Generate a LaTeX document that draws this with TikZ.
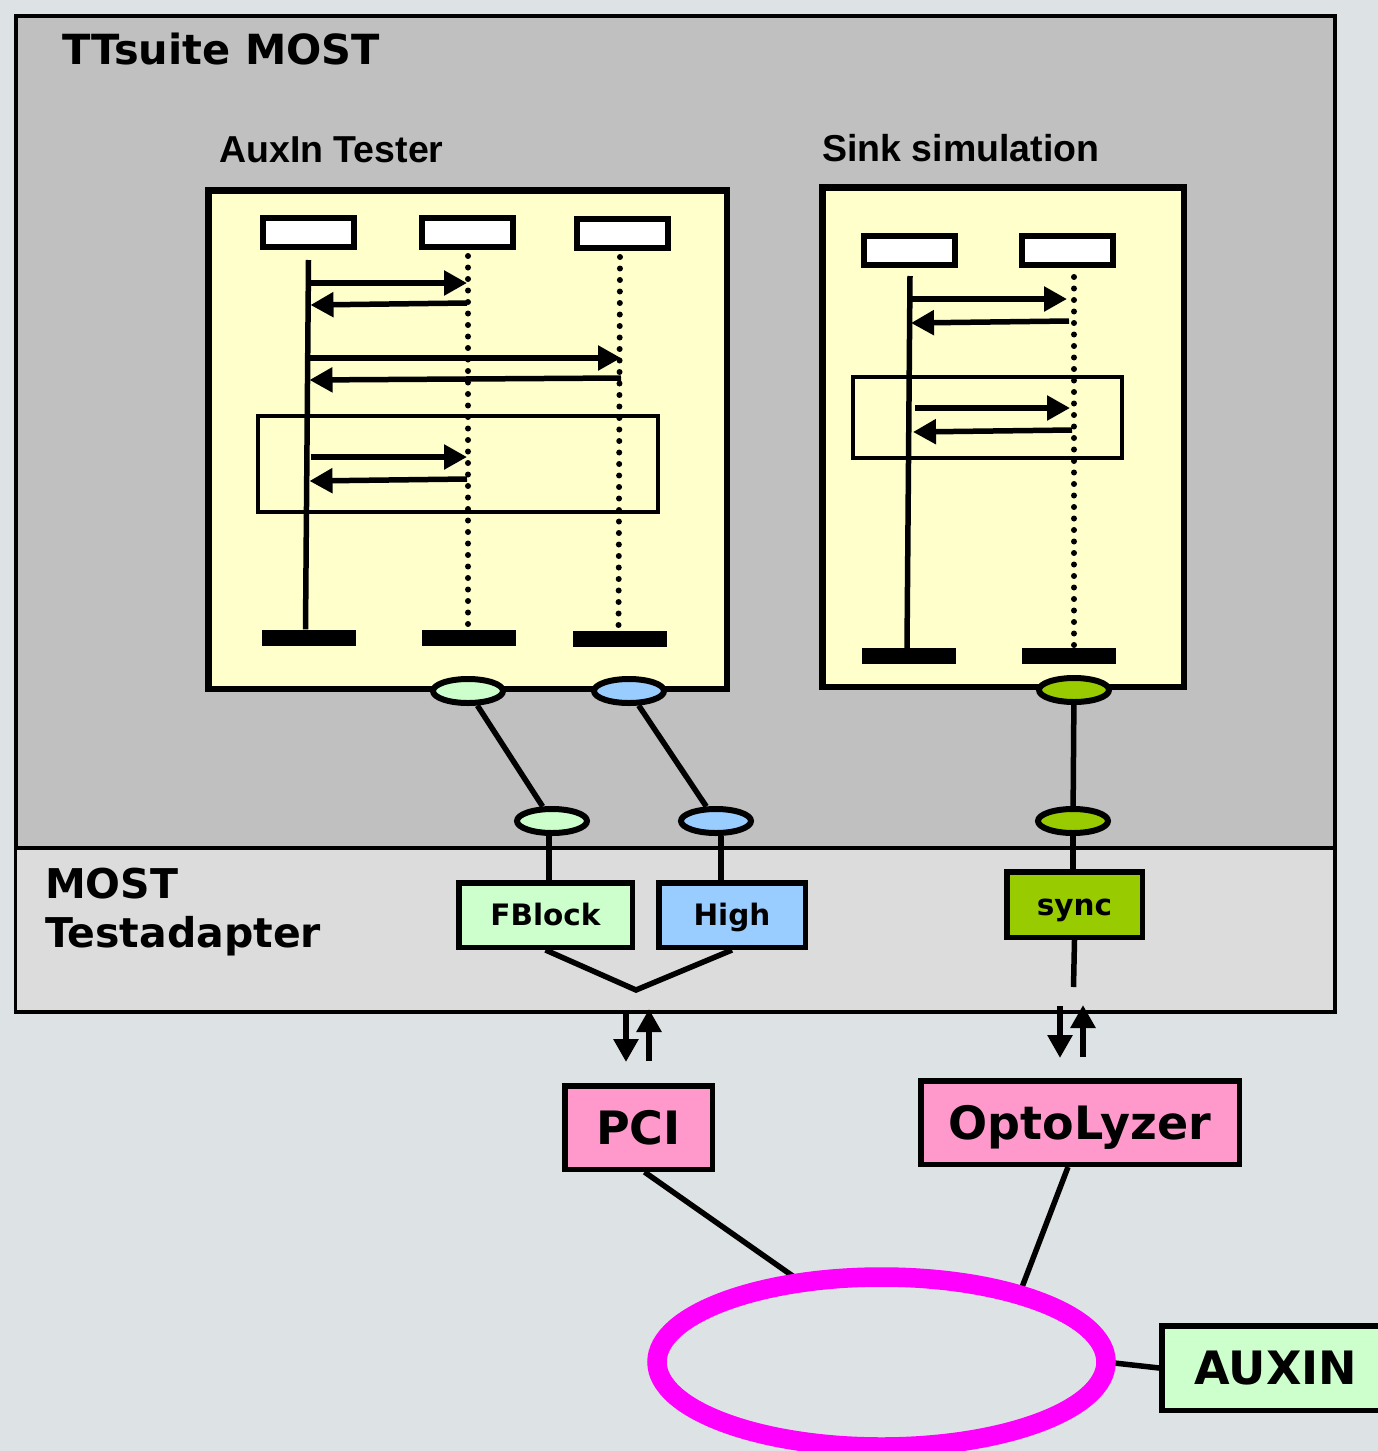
\documentclass[tikz,border=0pt]{standalone}
\usepackage{fontspec}
\setmainfont{DejaVu Sans}
\newfontfamily\arialfont{Liberation Sans}
\usetikzlibrary{arrows.meta,shapes.geometric}
\definecolor{bgc}{RGB}{221,226,229}
\definecolor{suitec}{RGB}{192,192,192}
\definecolor{adapc}{RGB}{220,220,220}
\definecolor{yelc}{RGB}{255,255,204}
\definecolor{lgreen}{RGB}{204,255,204}
\definecolor{lblue}{RGB}{153,204,255}
\definecolor{dgreen}{RGB}{153,204,0}
\definecolor{pinkc}{RGB}{255,153,204}
\definecolor{ringc}{RGB}{255,0,255}
\tikzset{
  titletext/.style={anchor=base west, inner sep=0pt, font=\bfseries\fontsize{41.5}{49}\selectfont},
  adptext/.style={anchor=base west, inner sep=0pt, font=\bfseries\fontsize{41}{48}\selectfont},
  subtext/.style={anchor=base west, inner sep=0pt, font=\arialfont\bfseries\fontsize{37.5}{45}\selectfont},
  panel/.style={draw, line width=6.5pt, fill=yelc, inner sep=0pt},
  headbox/.style={draw, line width=6pt, fill=white, minimum width=91pt, minimum height=29pt, inner sep=0pt},
  endbar/.style={fill=black, minimum width=94pt, minimum height=16pt, inner sep=0pt},
  framebox/.style={draw, line width=4.5pt, inner sep=0pt},
  life/.style={line width=5.5pt},
  dotline/.style={line width=6pt, line cap=round, dash pattern=on 0pt off 11.5pt},
  msg/.style={line width=5.5pt, -{Triangle[length=23pt,width=24pt]}},
  port/.style={ellipse, draw, line width=6pt, minimum width=70pt, minimum height=24pt, inner sep=0pt},
  link/.style={line width=5.5pt},
  adbox/.style={draw, line width=5.5pt, inner sep=0pt, text height=21.5pt, text depth=0pt, font=\bfseries\fontsize{29.5}{35}\selectfont},
  bigbox/.style={draw, line width=5.5pt, inner sep=0pt, text height=33.5pt, text depth=0pt, font=\bfseries\fontsize{46}{55}\selectfont},
  io/.style={line width=6.5pt, -{Triangle[length=23pt,width=24pt]}},
}
\begin{document}
\begin{tikzpicture}[x=1pt,y=-1pt]
\useasboundingbox (0,0) rectangle (1378,1451);
\fill[bgc] (0,0) rectangle (1378,1451);
% outer regions
\draw[line width=4.5pt, fill=suitec] (16,16) rectangle (1335,848);
\draw[line width=3.5pt, fill=adapc] (15.5,848) rectangle (1335,1012);
\node[titletext] (ttl) at (62,64) {TTsuite MOST};
\node[adptext] (adp1) at (45,898) {MOST};
\node[adptext] (adp2) at (45,947) {Testadapter};
\node[subtext] (auxttl) at (219,162) {AuxIn Tester};
\node[subtext] (sinkttl) at (822,161) {Sink simulation};
% AuxIn panel
\node[panel, minimum width=518.5pt, minimum height=498.5pt] (aux) at (467.5,439.5) {};
\node[headbox] (h1) at (308.5,232.5) {};
\node[headbox] (h2) at (467,232.5) {};
\node[headbox] (h3) at (622,233.5) {};
\node[endbar] (b1) at (308.5,637.5) {};
\node[endbar] (b2) at (469,637.5) {};
\node[endbar] (b3) at (619.5,638.5) {};
\node[framebox, minimum width=400pt, minimum height=96pt] (f1) at (458,464) {};
\draw[life] ([yshift=-10pt]h1.south) -- ([xshift=-3pt]b1.north);
\draw[dotline] ([xshift=1pt,yshift=-6pt]h2.south) -- ([xshift=-1pt]b2.north);
\draw[dotline] ([xshift=-2pt,yshift=-6pt]h3.south) -- ([xshift=-1pt]b3.north);
\draw[msg] (h1.south |- 0,283) -- (h2.south |- 0,283);
\draw[msg] (h2.south |- 0,303) -- ([xshift=2pt]h1.south |- 0,305);
\draw[msg] (h1.south |- 0,358) -- ([xshift=-1pt]h3.south |- 0,358);
\draw[msg] ([xshift=-1pt]h3.south |- 0,378) -- ([xshift=1pt]h1.south |- 0,380);
\draw[msg] ([xshift=2pt]h1.south |- 0,457) -- (h2.south |- 0,457);
\draw[msg] (h2.south |- 0,479) -- ([xshift=1pt]h1.south |- 0,481);
% Sink panel
\node[panel, minimum width=361.5pt, minimum height=499.5pt] (sink) at (1003,437) {};
\node[headbox] (h4) at (909,250.5) {};
\node[headbox] (h5) at (1067,250.5) {};
\node[endbar] (b4) at (909,656) {};
\node[endbar] (b5) at (1069,656) {};
\node[framebox, minimum width=269pt, minimum height=81pt] (f2) at (987.5,417.5) {};
\draw[life] ([xshift=1pt,yshift=-8pt]h4.south) -- ([xshift=-2pt]b4.north);
\draw[dotline] ([xshift=7pt,yshift=-9pt]h5.south) -- ([xshift=5pt]b5.north);
\draw[msg] ([xshift=1pt]h4.south |- 0,299) -- (h5.south |- 0,299);
\draw[msg] ([xshift=2pt]h5.south |- 0,321) -- ([xshift=2pt]h4.south |- 0,323);
\draw[msg] ([xshift=6pt]h4.south |- 0,408) -- ([xshift=3pt]h5.south |- 0,408);
\draw[msg] ([xshift=5pt]h5.south |- 0,430) -- ([xshift=4pt]h4.south |- 0,432);
% ports
\node[port, fill=lgreen] (e1a) at (468,691) {};
\node[port, fill=lblue] (e2a) at (629,691) {};
\node[port, fill=dgreen] (e3a) at (1074,690) {};
\node[port, fill=lgreen] (e1b) at (552,821) {};
\node[port, fill=lblue] (e2b) at (716,821) {};
\node[port, fill=dgreen] (e3b) at (1073,821) {};
\draw[link] (e1a) -- (e1b);
\draw[link] (e2a) -- (e2b);
\draw[link] (e3a) -- (e3b);
% adapter boxes
\node[adbox, fill=lgreen, minimum width=173.5pt, minimum height=64.5pt] (fblock) at (545.5,915) {FBlock};
\node[adbox, fill=lblue, minimum width=146.5pt, minimum height=64.5pt] (high) at (732,915) {High};
\node[adbox, fill=dgreen, minimum width=135.5pt, minimum height=65.5pt] (sync) at (1074.5,904.5) {sync};
\draw[link] ([xshift=-3pt]e1b.south) -- ([xshift=-3pt]e1b.south |- fblock.north);
\draw[link] ([xshift=5pt]e2b.south) -- ([xshift=5pt]e2b.south |- high.north);
\draw[link] (e3b.south) -- (e3b.south |- sync.north);
\coordinate (vtip) at (636,990);
\draw[link] (fblock.south) -- (vtip) -- (high.south);
\coordinate (syncend) at (1073.5,987);
\draw[link] (sync.south) -- (syncend);
% io arrows
\coordinate (pd1) at (626,1010); \coordinate (pd2) at (626,1062);
\coordinate (pu1) at (649,1061); \coordinate (pu2) at (649,1009);
\coordinate (od1) at (1060,1006); \coordinate (od2) at (1060,1058);
\coordinate (ou1) at (1083,1057); \coordinate (ou2) at (1083,1005);
\draw[io] (pd1) -- (pd2);
\draw[io] (pu1) -- (pu2);
\draw[io] (od1) -- (od2);
\draw[io] (ou1) -- (ou2);
% bottom boxes
\node[bigbox, fill=pinkc, minimum width=147.5pt, minimum height=83.5pt] (pci) at (638.5,1127.5) {PCI};
\node[bigbox, fill=pinkc, minimum width=318.5pt, minimum height=83.5pt] (opto) at (1080,1122.5) {OptoLyzer};
\node[bigbox, fill=lgreen, minimum width=228pt, minimum height=84.5pt] (auxin) at (1276,1368) {AUXIN};
% ring
\node[ellipse, minimum width=448pt, minimum height=170pt, inner sep=0pt, outer sep=0pt] (ring) at (881.5,1362) {};
\draw[link] ([xshift=6pt]pci.south) -- (ring.135);
\draw[link] ([xshift=-12pt]opto.south) -- (ring.26);
\draw[link] (ring.east) -- (auxin.west);
\draw[ringc, line width=19.5pt] (ring.center) ellipse [x radius=224.5pt, y radius=85pt];
\end{tikzpicture}
\end{document}
